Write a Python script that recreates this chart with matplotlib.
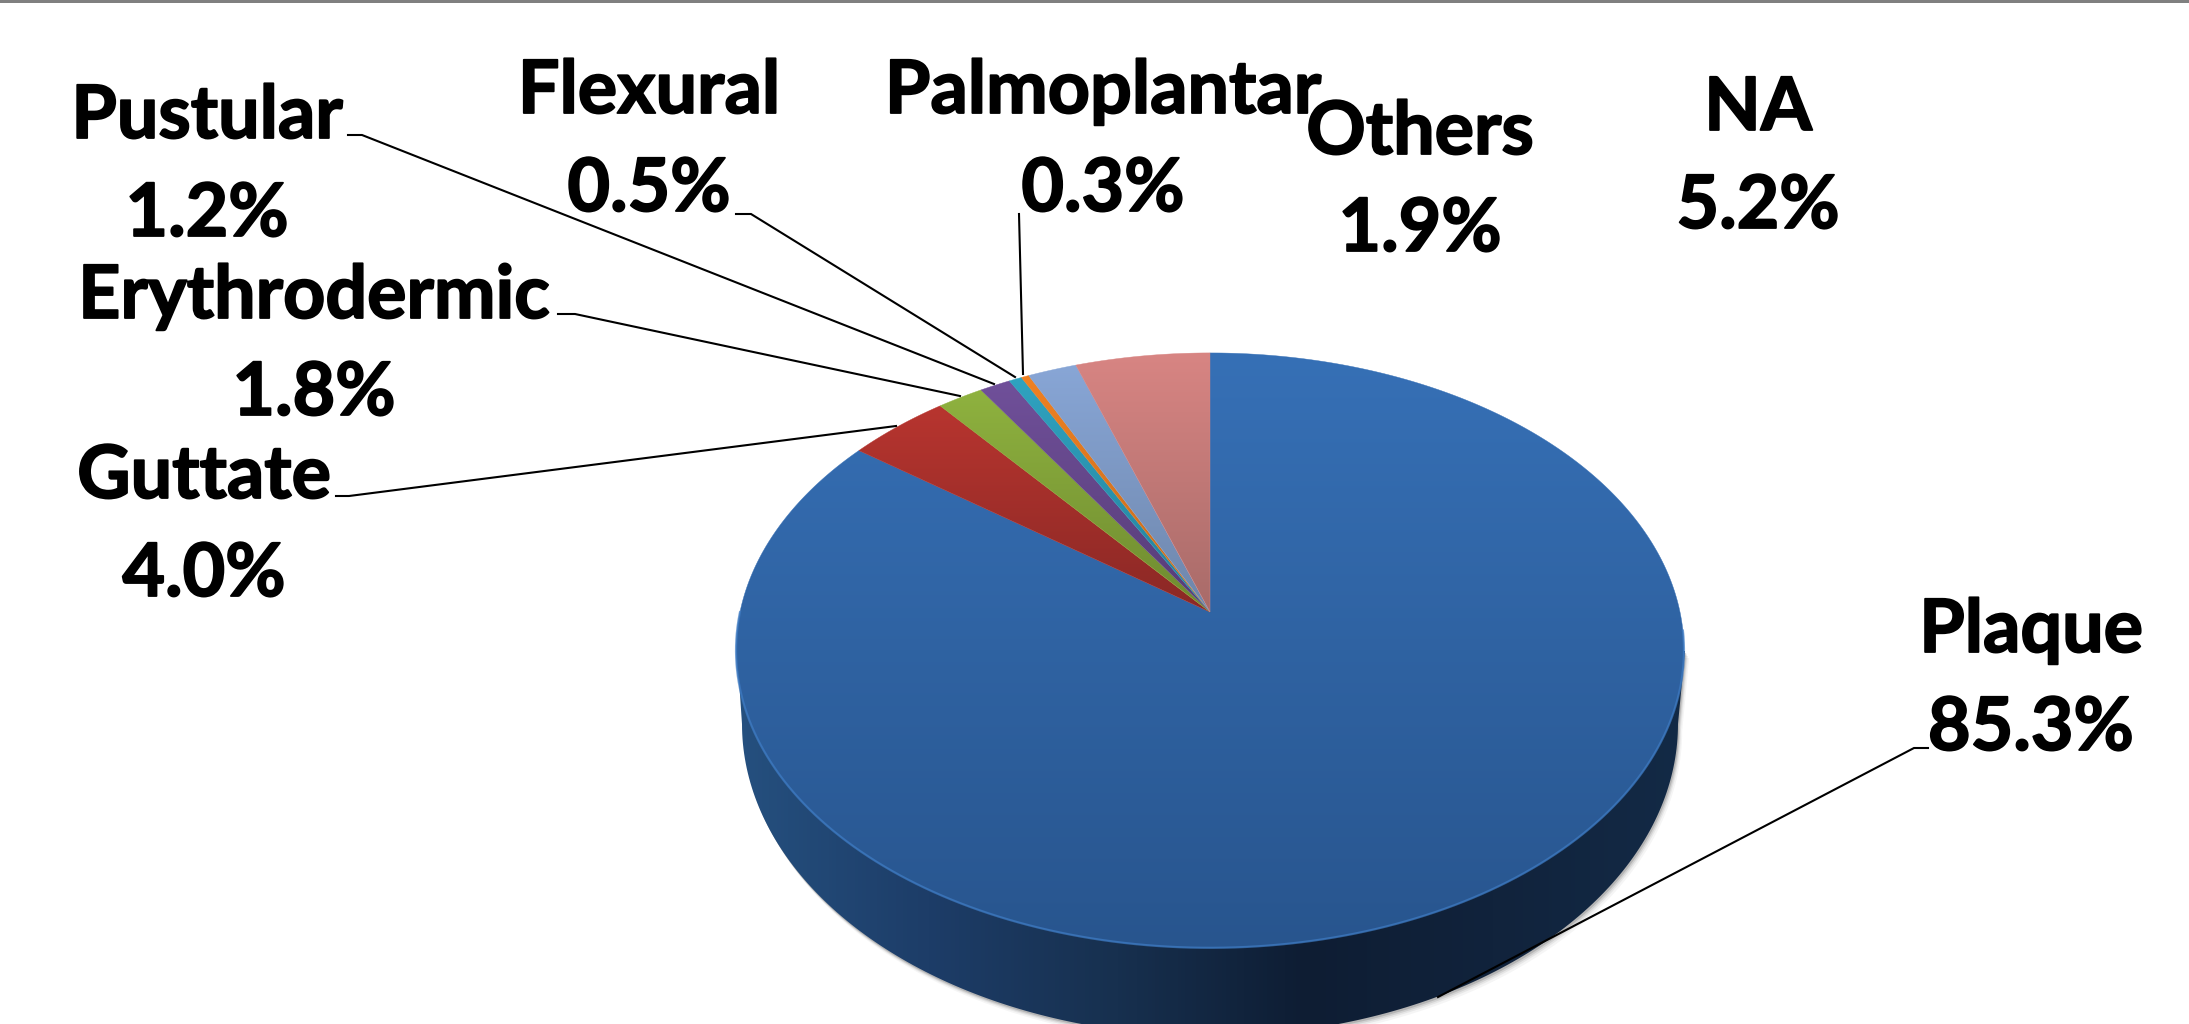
import numpy as np
import matplotlib.pyplot as plt
import matplotlib.patheffects as pe
from matplotlib.colors import LinearSegmentedColormap
from matplotlib.patches import Polygon

categories = ["Plaque", "Guttate", "Erythrodermic", "Pustular", "Flexural",
              "Palmoplantar", "Others", "NA"]
shares = [85.3, 4.0, 1.8, 1.2, 0.5, 0.3, 1.9, 5.2]

# top / bottom colour of each slice
colors_top = ["#3670b6", "#b8352f", "#8fb23f", "#70509a", "#2fa3c0", "#f08122", "#88a6d6", "#d88583"]
colors_bot = ["#28558e", "#8a2825", "#6e8a30", "#563c76", "#25809a", "#c06a1c", "#6e86ab", "#a86b69"]

# label layout in picture pixels: name centre x, name baseline, value baseline
label_pos = {
    "Plaque": (2031, 652, 750),
    "Guttate": (204, 498, 596),
    "Erythrodermic": (314, 318, 415),
    "Pustular": (207, 138, 236),
    "Flexural": (649, 113, 211),
    "Palmoplantar": (1103, 113, 211),
    "Others": (1420, 154, 251),
    "NA": (1758, 130, 228),
}
# leader lines, picture pixels
leaders = {
    "Plaque": [(1928, 748), (1914, 748), (1438, 997)],
    "Guttate": [(336, 496), (349, 496), (896, 426)],
    "Erythrodermic": [(558, 314), (575, 314), (960, 396)],
    "Pustular": [(348, 135), (362, 135), (994, 384)],
    "Flexural": [(736, 214), (751, 214), (1015, 377)],
    "Palmoplantar": [(1019, 214), (1023, 374)],
}

APEX_X, APEX_Y = 1210, 612
A, B, K = 470, 292.5, 0.129


def project(theta):
    # perspective view of the pie disc, theta clockwise from 12 o'clock
    cx, cy = np.sin(theta), np.cos(theta)
    w = 1 + K * cy
    return APEX_X + A * cx / w, APEX_Y - B * cy / w


def gradient(ax, patch, colors, extent, horizontal=False):
    cmap = LinearSegmentedColormap.from_list("g", colors)
    ramp = np.linspace(0, 1, 256)
    ramp = ramp[None, :] if horizontal else ramp[:, None]
    im = ax.imshow(ramp, cmap=cmap, extent=extent, aspect="auto", origin="upper",
                   zorder=patch.get_zorder())
    ax.add_patch(patch)
    patch.set_visible(False)
    im.set_clip_path(patch)
    return im


fig = plt.figure(figsize=(21.89, 10.24), dpi=100)
ax = fig.add_axes([0, 0, 1, 1])
ax.set_xlim(0, 2189)
ax.set_ylim(1024, 0)
ax.axis("off")

ax.fill_between([0, 2189], 0, 3, color="#808080", lw=0)

# side wall: lower rim ellipse joined to the top rim
t = np.linspace(-np.pi / 2, np.pi / 2, 200)
low_x = 1210 + 468 * np.sin(t)
low_y = 724 + 312 * np.cos(t)
side_x = np.r_[737, low_x, 1685]
side_y = np.r_[651, low_y, 651]
side = np.column_stack([side_x, side_y])

for off, alpha in [(7, 0.05), (5, 0.08), (3.5, 0.12), (2, 0.2)]:
    ax.add_patch(Polygon(side + [off * 0.6, off], closed=True, fc="#404040",
                         ec="none", alpha=alpha, zorder=1))

gradient(ax, Polygon(side, closed=True, zorder=2),
         ["#25507f", "#1d3d68", "#17304f", "#0e1d33", "#11233c", "#132a46"],
         (736, 1686, 1040, 640), horizontal=True)

# top face slices, built from the shares
fracs = np.array(shares) / sum(shares)
edges = np.r_[0, np.cumsum(fracs)] * 2 * np.pi
for i, name in enumerate(categories):
    th = np.linspace(edges[i], edges[i + 1], max(3, int(fracs[i] * 720)))
    x, y = project(th)
    verts = np.column_stack([np.r_[APEX_X, x], np.r_[APEX_Y, y]])
    top, bot = verts[:, 1].min(), verts[:, 1].max()
    gradient(ax, Polygon(verts, closed=True, zorder=3), [colors_top[i], colors_bot[i]],
             (0, 2189, bot, top))
    ax.fill(verts[:, 0], verts[:, 1], fc="none", ec=colors_top[i], lw=0.3, zorder=3)

# light rim along the front of the top face
th = np.linspace(np.pi * 0.52, np.pi * 1.5, 300)
x, y = project(th)
ax.plot(x, y, color="#3f7cc4", lw=1.6, alpha=0.7, zorder=4)

for name, pts in leaders.items():
    xs, ys = zip(*pts)
    ax.plot(xs, ys, color="black", lw=1.5, zorder=5, solid_joinstyle="miter")

thick = [pe.withStroke(linewidth=1.3, foreground="black")]
for name, share in zip(categories, shares):
    xc, y1, y2 = label_pos[name]
    for txt, yb in [(name, y1), ("%.1f%%" % share, y2)]:
        ax.text(xc, yb, txt, ha="center", va="baseline", family="Lato",
                weight="bold", fontsize=53, color="black", zorder=6,
                path_effects=thick)

ax.set_xlim(0, 2189)
ax.set_ylim(1024, 0)
fig.savefig("out.png", dpi=100, facecolor="white")
